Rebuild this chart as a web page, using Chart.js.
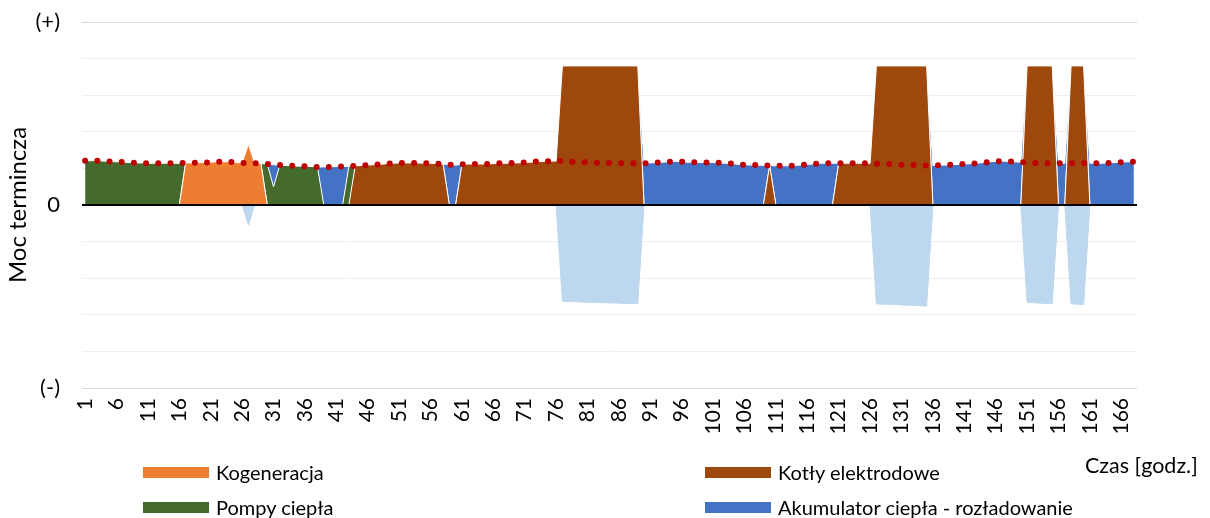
<!DOCTYPE html>
<html>
<head>
<meta charset="utf-8">
<script src="https://cdn.jsdelivr.net/npm/chart.js@4"></script>
<style>
  body { margin: 0; background: #fff; font-family: Lato, sans-serif; }
  #wrap { position: relative; width: 1210px; height: 518px; }
  canvas { position: absolute; left: 0; top: 0; }
  .leg { position: absolute; display: flex; align-items: center; font-size: 20px; line-height: 24px; color: #000; white-space: nowrap; }
  .sw { width: 66px; height: 11px; margin-right: 7px; }
  #xTitle { position: absolute; left: 1085px; top: 453px; font-size: 21.5px; line-height: 24px; color: #000; }
</style>
</head>
<body>
<div id="wrap">
  <canvas id="chart" width="1210" height="518"></canvas>
  <div class="leg" style="left:143px; top:460px"><div class="sw" style="background:#ED7D31"></div>Kogeneracja</div>
  <div class="leg" style="left:143px; top:495px"><div class="sw" style="background:#456A2D"></div>Pompy ciepła</div>
  <div class="leg" style="left:705px; top:460px"><div class="sw" style="background:#9E480E"></div>Kotły elektrodowe</div>
  <div class="leg" style="left:705px; top:495px"><div class="sw" style="background:#4472C4"></div>Akumulator ciepła - rozładowanie</div>
  <div id="xTitle">Czas [godz.]</div>
</div>
<script>
// hours of the week
const hours = Array.from({ length: 168 }, (_, i) => i + 1);

// heat demand (red dotted line)
const demand = [
  1.21, 1.21, 1.21, 1.20, 1.19, 1.18, 1.17, 1.16, 1.15, 1.15,
  1.14, 1.14, 1.14, 1.14, 1.14, 1.14, 1.15, 1.15, 1.16, 1.16,
  1.17, 1.18, 1.18, 1.18, 1.16, 1.15, 1.14, 1.14, 1.13, 1.12,
  1.10, 1.09, 1.08, 1.07, 1.06, 1.06, 1.05, 1.04, 1.04, 1.04,
  1.05, 1.05, 1.06, 1.07, 1.08, 1.09, 1.10, 1.11, 1.13, 1.14,
  1.15, 1.15, 1.15, 1.15, 1.14, 1.14, 1.13, 1.12, 1.10, 1.09,
  1.11, 1.12, 1.12, 1.12, 1.12, 1.13, 1.14, 1.14, 1.15, 1.15,
  1.16, 1.17, 1.19, 1.19, 1.20, 1.20, 1.20, 1.19, 1.18, 1.17,
  1.16, 1.16, 1.15, 1.15, 1.14, 1.14, 1.14, 1.14, 1.14, 1.14,
  1.15, 1.16, 1.17, 1.18, 1.19, 1.18, 1.17, 1.17, 1.16, 1.16,
  1.16, 1.15, 1.14, 1.13, 1.11, 1.10, 1.09, 1.09, 1.08, 1.08,
  1.07, 1.07, 1.07, 1.08, 1.09, 1.11, 1.12, 1.14, 1.14, 1.14,
  1.14, 1.14, 1.14, 1.14, 1.14, 1.14, 1.13, 1.13, 1.12, 1.11,
  1.10, 1.10, 1.09, 1.09, 1.08, 1.08, 1.09, 1.09, 1.10, 1.11,
  1.12, 1.13, 1.14, 1.16, 1.18, 1.19, 1.20, 1.19, 1.18, 1.17,
  1.16, 1.15, 1.14, 1.14, 1.14, 1.14, 1.14, 1.14, 1.14, 1.14,
  1.14, 1.14, 1.14, 1.15, 1.16, 1.17, 1.18, 1.18
];

const kogeneracja = [
  0, 0, 0, 0, 0, 0, 0, 0, 0, 0,
  0, 0, 0, 0, 0, 0, 1.15, 1.15, 1.16, 1.16,
  1.17, 1.18, 1.18, 1.18, 1.16, 1.15, 1.66, 1.14, 1.13, 0,
  0, 0, 0, 0, 0, 0, 0, 0, 0, 0,
  0, 0, 0, 0, 0, 0, 0, 0, 0, 0,
  0, 0, 0, 0, 0, 0, 0, 0, 0, 0,
  0, 0, 0, 0, 0, 0, 0, 0, 0, 0,
  0, 0, 0, 0, 0, 0, 0, 0, 0, 0,
  0, 0, 0, 0, 0, 0, 0, 0, 0, 0,
  0, 0, 0, 0, 0, 0, 0, 0, 0, 0,
  0, 0, 0, 0, 0, 0, 0, 0, 0, 0,
  0, 0, 0, 0, 0, 0, 0, 0, 0, 0,
  0, 0, 0, 0, 0, 0, 0, 0, 0, 0,
  0, 0, 0, 0, 0, 0, 0, 0, 0, 0,
  0, 0, 0, 0, 0, 0, 0, 0, 0, 0,
  0, 0, 0, 0, 0, 0, 0, 0, 0, 0,
  0, 0, 0, 0, 0, 0, 0, 0
];

const kotly = [
  0, 0, 0, 0, 0, 0, 0, 0, 0, 0,
  0, 0, 0, 0, 0, 0, 0, 0, 0, 0,
  0, 0, 0, 0, 0, 0, 0, 0, 0, 0,
  0, 0, 0, 0, 0, 0, 0, 0, 0, 0,
  0, 0, 0, 1.07, 1.08, 1.09, 1.10, 1.11, 1.13, 1.14,
  1.15, 1.15, 1.15, 1.15, 1.14, 1.14, 1.13, 1.12, 0, 0,
  1.11, 1.12, 1.12, 1.12, 1.12, 1.13, 1.14, 1.14, 1.15, 1.15,
  1.16, 1.17, 1.19, 1.19, 1.20, 1.20, 3.8, 3.8, 3.8, 3.8,
  3.8, 3.8, 3.8, 3.8, 3.8, 3.8, 3.8, 3.8, 3.8, 0,
  0, 0, 0, 0, 0, 0, 0, 0, 0, 0,
  0, 0, 0, 0, 0, 0, 0, 0, 0, 1.08,
  0, 0, 0, 0, 0, 0, 0, 0, 0, 0,
  1.14, 1.14, 1.14, 1.14, 1.14, 1.14, 3.8, 3.8, 3.8, 3.8,
  3.8, 3.8, 3.8, 3.8, 3.8, 0, 0, 0, 0, 0,
  0, 0, 0, 0, 0, 0, 0, 0, 0, 0,
  3.8, 3.8, 3.8, 3.8, 3.8, 0, 0, 3.8, 3.8, 3.8,
  0, 0, 0, 0, 0, 0, 0, 0
];

const pompy = [
  1.21, 1.21, 1.21, 1.20, 1.19, 1.18, 1.17, 1.16, 1.15, 1.15,
  1.14, 1.14, 1.14, 1.14, 1.14, 1.14, 0, 0, 0, 0,
  0, 0, 0, 0, 0, 0, 0, 0, 0, 1.12,
  0.50, 1.09, 1.08, 1.07, 1.06, 1.06, 1.05, 1.04, 0, 0,
  0, 0, 1.06, 0, 0, 0, 0, 0, 0, 0,
  0, 0, 0, 0, 0, 0, 0, 0, 0, 0,
  0, 0, 0, 0, 0, 0, 0, 0, 0, 0,
  0, 0, 0, 0, 0, 0, 0, 0, 0, 0,
  0, 0, 0, 0, 0, 0, 0, 0, 0, 0,
  0, 0, 0, 0, 0, 0, 0, 0, 0, 0,
  0, 0, 0, 0, 0, 0, 0, 0, 0, 0,
  0, 0, 0, 0, 0, 0, 0, 0, 0, 0,
  0, 0, 0, 0, 0, 0, 0, 0, 0, 0,
  0, 0, 0, 0, 0, 0, 0, 0, 0, 0,
  0, 0, 0, 0, 0, 0, 0, 0, 0, 0,
  0, 0, 0, 0, 0, 0, 0, 0, 0, 0,
  0, 0, 0, 0, 0, 0, 0, 0
];

const akumulator = [
  0, 0, 0, 0, 0, 0, 0, 0, 0, 0,
  0, 0, 0, 0, 0, 0, 0, 0, 0, 0,
  0, 0, 0, 0, 0, 0, 0, 0, 0, 0,
  0.60, 0, 0, 0, 0, 0, 0, 0, 1.04, 1.04,
  1.05, 1.05, 0, 0, 0, 0, 0, 0, 0, 0,
  0, 0, 0, 0, 0, 0, 0, 0, 1.10, 1.09,
  0, 0, 0, 0, 0, 0, 0, 0, 0, 0,
  0, 0, 0, 0, 0, 0, 0, 0, 0, 0,
  0, 0, 0, 0, 0, 0, 0, 0, 0, 1.14,
  1.15, 1.16, 1.17, 1.18, 1.19, 1.18, 1.17, 1.17, 1.16, 1.16,
  1.16, 1.15, 1.14, 1.13, 1.11, 1.10, 1.09, 1.09, 1.08, 0,
  1.07, 1.07, 1.07, 1.08, 1.09, 1.11, 1.12, 1.14, 1.14, 1.14,
  0, 0, 0, 0, 0, 0, 0, 0, 0, 0,
  0, 0, 0, 0, 0, 1.08, 1.09, 1.09, 1.10, 1.11,
  1.12, 1.13, 1.14, 1.16, 1.18, 1.19, 1.20, 1.19, 1.18, 1.17,
  0, 0, 0, 0, 0, 1.14, 1.14, 0, 0, 0,
  1.14, 1.14, 1.14, 1.15, 1.16, 1.17, 1.18, 1.18
];

// accumulator charging (negative, light blue)
const ladowanie = [
  0, 0, 0, 0, 0, 0, 0, 0, 0, 0,
  0, 0, 0, 0, 0, 0, 0, 0, 0, 0,
  0, 0, 0, 0, 0, 0, -0.55, 0, 0, 0,
  0, 0, 0, 0, 0, 0, 0, 0, 0, 0,
  0, 0, 0, 0, 0, 0, 0, 0, 0, 0,
  0, 0, 0, 0, 0, 0, 0, 0, 0, 0,
  0, 0, 0, 0, 0, 0, 0, 0, 0, 0,
  0, 0, 0, 0, 0, 0, -2.63, -2.64, -2.64, -2.65,
  -2.66, -2.66, -2.67, -2.67, -2.68, -2.68, -2.69, -2.69, -2.70, 0,
  0, 0, 0, 0, 0, 0, 0, 0, 0, 0,
  0, 0, 0, 0, 0, 0, 0, 0, 0, 0,
  0, 0, 0, 0, 0, 0, 0, 0, 0, 0,
  0, 0, 0, 0, 0, 0, -2.70, -2.71, -2.71, -2.72,
  -2.73, -2.74, -2.74, -2.75, -2.76, 0, 0, 0, 0, 0,
  0, 0, 0, 0, 0, 0, 0, 0, 0, 0,
  -2.66, -2.67, -2.68, -2.69, -2.70, 0, 0, -2.70, -2.71, -2.72,
  0, 0, 0, 0, 0, 0, 0, 0
];

// black axis line at zero, drawn over the areas
const zeroLine = {
  id: 'zeroLine',
  afterDatasetsDraw(chart) {
    const { ctx, chartArea, scales } = chart;
    const y = scales.y.getPixelForValue(0);
    ctx.save();
    ctx.strokeStyle = '#000';
    ctx.lineWidth = 2;
    ctx.beginPath();
    ctx.moveTo(chartArea.left, y);
    ctx.lineTo(chartArea.right, y);
    ctx.stroke();
    ctx.restore();
  }
};

function area(label, data, color, fill) {
  return {
    label, data, fill, stack: 'pos',
    backgroundColor: color, borderColor: '#fff', borderWidth: 1,
    pointRadius: 0, tension: 0
  };
}

new Chart(document.getElementById('chart'), {
  type: 'line',
  data: {
    labels: hours,
    datasets: [
      {
        label: 'Zapotrzebowanie', data: demand, stack: 'demand', fill: false,
        borderColor: '#C00000', borderWidth: 6, borderDash: [0, 12.2], borderCapStyle: 'round',
        pointRadius: 0, tension: 0
      },
      area('Kogeneracja', kogeneracja, '#ED7D31', 'origin'),
      area('Kotły elektrodowe', kotly, '#9E480E', '-1'),
      area('Pompy ciepła', pompy, '#456A2D', '-1'),
      area('Akumulator ciepła - rozładowanie', akumulator, '#4472C4', '-1'),
      {
        label: 'Akumulator ciepła - ładowanie', data: ladowanie, stack: 'neg', fill: 'origin',
        backgroundColor: '#BDD7EE', borderColor: '#BDD7EE', borderWidth: 1,
        pointRadius: 0, tension: 0
      }
    ]
  },
  options: {
    responsive: false,
    animation: false,
    layout: { padding: { top: 22, right: 73, bottom: 0, left: 0 } },
    plugins: { legend: { display: false }, tooltip: { enabled: false } },
    scales: {
      x: {
        offset: true,
        grid: { display: false, drawTicks: false },
        border: { display: false },
        ticks: {
          autoSkip: false, maxRotation: 90, minRotation: 90, padding: 10,
          color: '#000', font: { family: 'Lato', size: 21 },
          callback: (v, i) => (i % 5 === 0 ? hours[i] : '')
        },
        afterFit: (s) => { s.height = 130; }
      },
      y: {
        stacked: true, min: -5, max: 5,
        border: { display: false },
        grid: {
          drawTicks: false,
          color: (c) => (Math.abs(c.tick.value) === 5 ? '#D9D9D9' : '#EEEEEE')
        },
        ticks: {
          stepSize: 1, padding: 22, color: '#000', font: { family: 'Lato', size: 22 },
          callback: (v) => (v === 5 ? '(+)' : v === 0 ? '0' : v === -5 ? '(-)' : '')
        },
        title: {
          display: true, text: 'Moc termincza', color: '#000',
          font: { family: 'Lato', size: 24 }, padding: { top: 4, bottom: 0 }
        },
        afterFit: (s) => { s.width = 82; s.paddingTop = 0; s.paddingBottom = 0; }
      }
    }
  },
  plugins: [zeroLine]
});
</script>
</body>
</html>
